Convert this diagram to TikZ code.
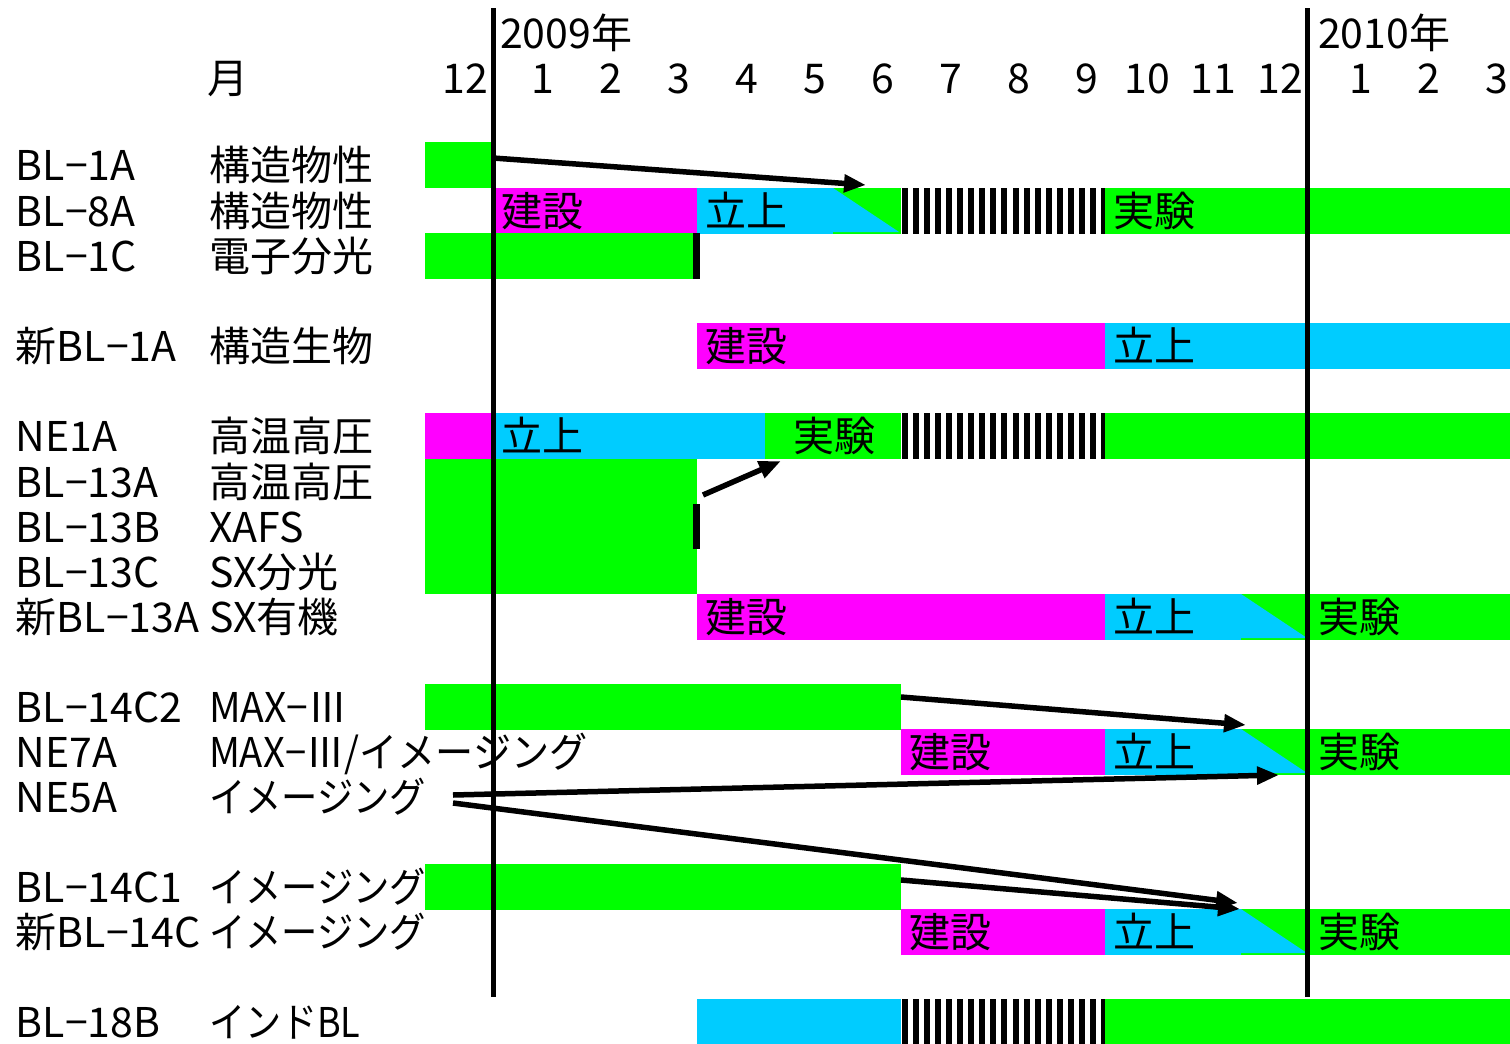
\documentclass[tikz,border=0pt]{standalone}
\usepackage{fontspec}
\usepackage{graphicx}
\setmainfont{Noto Sans CJK JP}
\usetikzlibrary{arrows.meta}
\definecolor{grn}{RGB}{0,255,0}
\definecolor{mag}{RGB}{255,0,255}
\definecolor{cyn}{RGB}{0,204,255}
\newcommand\seg[4]{\fill[#1] (#2,#4) rectangle (#3,{#4+45.5});}
\newcommand\tri[2]{\fill[grn] (#1,#2) rectangle ({#1+68},{#2+45.5});
  \fill[cyn] (#1,#2) -- ({#1+66},{#2+44}) -- (#1,{#2+44}) -- cycle;}
\newcommand\stripes[1]{\foreach \i in {0,...,18}{\fill[black] ({902+\i*11.05},#1) rectangle +(6,45.5);}}
\newcommand\sx[2]{\scalebox{#1}[1]{#2}}
\begin{document}
\begin{tikzpicture}[x=1pt,y=-1pt,
  every node/.style={inner sep=0pt,outer sep=0pt,font=\fontsize{41}{41}\selectfont},
  lbl/.style={anchor=base west},
  mon/.style={anchor=base},
  arr/.style={line width=5.5pt,-{Triangle[length=22pt,width=17pt]}},
  vline/.style={line width=5pt}]
\useasboundingbox[fill=white] (0,0) rectangle (1510,1044);
% ---------- bars ----------
% BL-1A
\seg{grn}{425}{491}{142}
% BL-8A
\seg{mag}{493}{697}{188}
\seg{cyn}{697}{833}{188}
\tri{833}{188}
\stripes{188}
\seg{grn}{1105}{1510}{188}
% BL-1C
\seg{grn}{425}{697}{233}
\fill[black] (693,233) rectangle (700,278.5);
% new BL-1A
\seg{mag}{697}{1105}{323}
\seg{cyn}{1105}{1510}{323}
% NE1A
\seg{mag}{425}{493}{413}
\seg{cyn}{493}{765}{413}
\seg{grn}{765}{901}{413}
\stripes{413}
\seg{grn}{1105}{1510}{413}
% BL-13A/B/C
\fill[grn] (425,459) rectangle (697,594);
\fill[black] (693,504) rectangle (700,549);
% new BL-13A
\seg{mag}{697}{1105}{594}
\seg{cyn}{1105}{1241}{594}
\tri{1241}{594}
\seg{grn}{1307}{1510}{594}
% BL-14C2
\seg{grn}{425}{901}{684}
% NE7A
\seg{mag}{901}{1105}{729}
\seg{cyn}{1105}{1241}{729}
\tri{1241}{729}
\seg{grn}{1307}{1510}{729}
% BL-14C1
\seg{grn}{425}{901}{864}
% new BL-14C
\seg{mag}{901}{1105}{909}
\seg{cyn}{1105}{1241}{909}
\tri{1241}{909}
\seg{grn}{1307}{1510}{909}
% BL-18B
\seg{cyn}{697}{901}{999}
\stripes{999}
\seg{grn}{1105}{1510}{999}
% ---------- bar texts ----------
\node[lbl] (t8a1) at (501,226) {建設};
\node[lbl] (t8a2) at (705,226) {立上};
\node[lbl] (t8a3) at (1113,226) {実験};
\node[lbl] (tn1a1) at (705,361) {建設};
\node[lbl] (tn1a2) at (1113,361) {立上};
\node[lbl] (tne1a1) at (501,451) {立上};
\node[mon] (tne1a2) at (834,451) {実験};
\node[lbl] (tn13a1) at (705,632) {建設};
\node[lbl] (tn13a2) at (1113,632) {立上};
\node[lbl] (tn13a3) at (1318,632) {実験};
\node[lbl] (tne7a1) at (909,767) {建設};
\node[lbl] (tne7a2) at (1113,767) {立上};
\node[lbl] (tne7a3) at (1318,767) {実験};
\node[lbl] (tn14c1) at (909,947) {建設};
\node[lbl] (tn14c2) at (1113,947) {立上};
\node[lbl] (tn14c3) at (1318,947) {実験};
% ---------- header ----------
\node[lbl] (y2009) at (500,48) {2009年};
\node[lbl] (y2010) at (1318,48) {2010年};
\node[mon] (mlabel) at (228,93) {月};
\foreach \m/\x [count=\k] in {12/465,1/543,2/611,3/679,4/747,5/815,6/883,7/951,8/1019,9/1087,10/1147,11/1213,12/1280,1/1361,2/1429,3/1497}
  {\node[mon] (m\k) at (\x,93) {\m};}
% ---------- left labels ----------
\node[lbl] (a1) at (16,180) {BL−1A};      \node[lbl] (b1) at (209,180) {構造物性};
\node[lbl] (a2) at (16,226) {BL−8A};      \node[lbl] (b2) at (209,226) {構造物性};
\node[lbl] (a3) at (16,271) {BL−1C};      \node[lbl] (b3) at (209,271) {電子分光};
\node[lbl] (a4) at (16,361) {新BL−1A};    \node[lbl] (b4) at (209,361) {構造生物};
\node[lbl] (a5) at (16,451) {NE1A};       \node[lbl] (b5) at (209,451) {高温高圧};
\node[lbl] (a6) at (16,497) {BL−13A};     \node[lbl] (b6) at (209,497) {高温高圧};
\node[lbl] (a7) at (16,542) {BL−13B};     \node[lbl] (b7) at (209,542) {XAFS};
\node[lbl] (a8) at (16,587) {BL−13C};     \node[lbl] (b8) at (209,587) {SX分光};
\node[lbl] (a9) at (16,632) {新BL−13A};   \node[lbl] (b9) at (209,632) {SX有機};
\node[lbl] (a10) at (16,722) {BL−14C2};   \node[lbl] (b10) at (209,722) {\sx{0.95}{MAX−Ⅲ}};
\node[lbl] (a11) at (16,767) {NE7A};      \node[lbl] (b11) at (209,767) {\sx{0.93}{MAX−Ⅲ/イメージング}};
\node[lbl] (a12) at (16,812) {NE5A};      \node[lbl] (b12) at (209,812) {\sx{0.885}{イメージング}};
\node[lbl] (a13) at (16,902) {BL−14C1};   \node[lbl] (b13) at (209,902) {\sx{0.885}{イメージング}};
\node[lbl] (a14) at (16,947) {新BL−14C};  \node[lbl] (b14) at (209,947) {\sx{0.885}{イメージング}};
\node[lbl] (a15) at (16,1037) {BL−18B};   \node[lbl] (b15) at (209,1037) {\sx{0.88}{インドBL}};
% ---------- year lines ----------
\coordinate (v1t) at (493,8);  \coordinate (v1b) at (493,997);
\coordinate (v2t) at (1307,8); \coordinate (v2b) at (1307,997);
\draw[vline] (v1t) -- (v1b);
\draw[vline] (v2t) -- (v2b);
% ---------- arrows ----------
\coordinate (p1s) at (493,158);  \coordinate (p1e) at (866,185);
\coordinate (p2s) at (703,495);  \coordinate (p2e) at (781,461);
\coordinate (p3s) at (901,697);  \coordinate (p3e) at (1246,725);
\coordinate (p4s) at (453,795);  \coordinate (p4e) at (1279,775);
\coordinate (p5s) at (453,803);  \coordinate (p5e) at (1238,903);
\coordinate (p6s) at (901,880);  \coordinate (p6e) at (1240,909);
\draw[arr] (p1s) -- (p1e);
\draw[arr] (p2s) -- (p2e);
\draw[arr] (p3s) -- (p3e);
\draw[arr] (p4s) -- (p4e);
\draw[arr] (p5s) -- (p5e);
\draw[arr] (p6s) -- (p6e);
\end{tikzpicture}
\end{document}
